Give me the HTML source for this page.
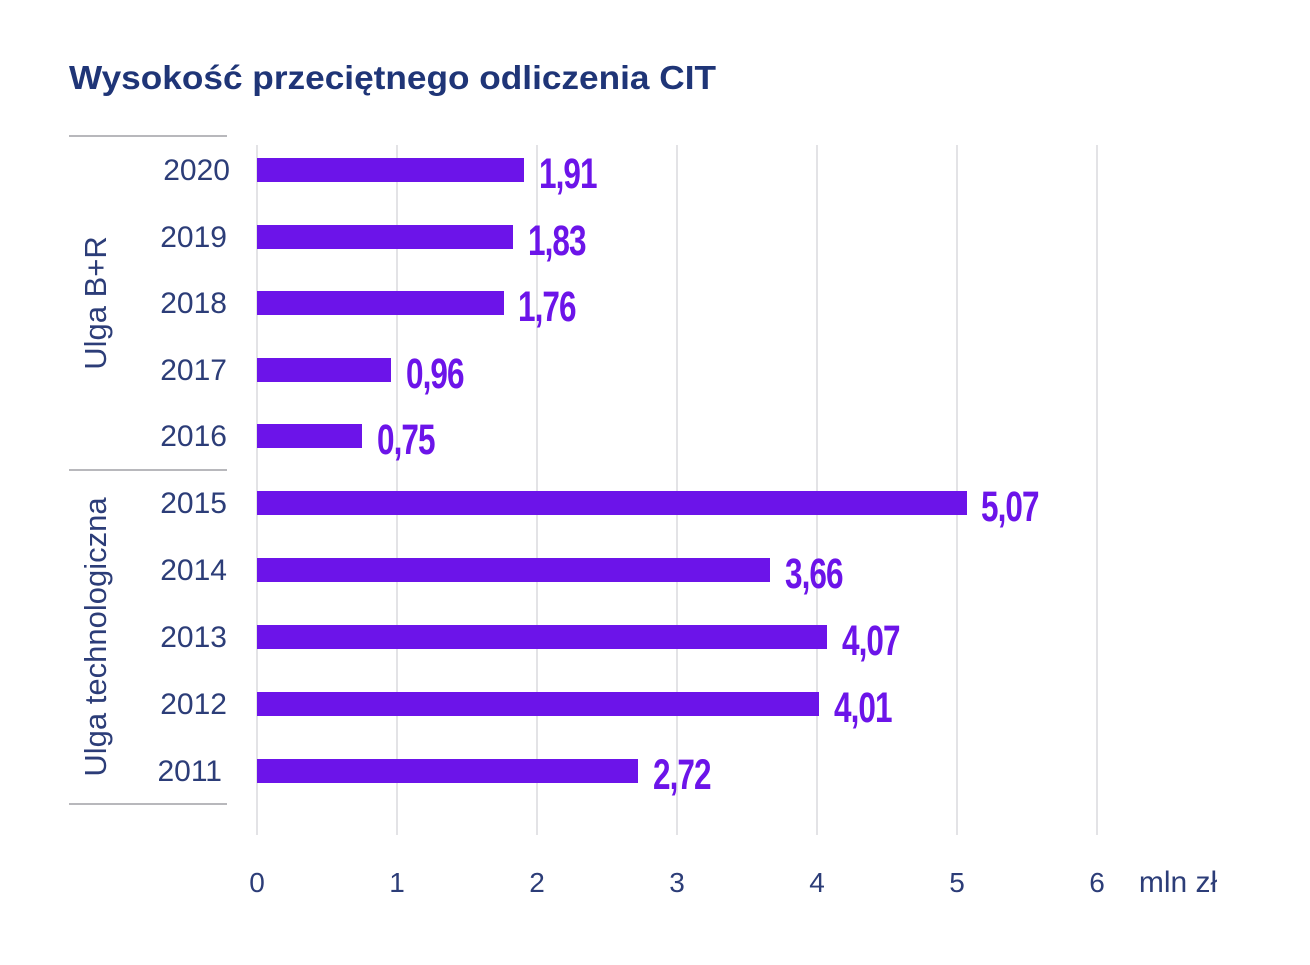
<!DOCTYPE html>
<html><head><meta charset="utf-8"><style>
body{margin:0;background:#fff;width:1310px;height:960px;overflow:hidden;}
svg text{font-family:"Liberation Sans",sans-serif;}
</style></head><body>
<svg width="1310" height="960" xmlns="http://www.w3.org/2000/svg">
<text x="69" y="89" font-size="33" font-weight="bold" fill="#1f3577" textLength="647" lengthAdjust="spacingAndGlyphs">Wysokość przeciętnego odliczenia CIT</text>
<g stroke="#e3e3e6" stroke-width="2">
<line x1="257" y1="145" x2="257" y2="835"/><line x1="397" y1="145" x2="397" y2="835"/>
<line x1="537" y1="145" x2="537" y2="835"/><line x1="677" y1="145" x2="677" y2="835"/>
<line x1="817" y1="145" x2="817" y2="835"/><line x1="957" y1="145" x2="957" y2="835"/>
<line x1="1097" y1="145" x2="1097" y2="835"/>
</g>
<g stroke="#b8b8bc" stroke-width="2">
<line x1="69" y1="136" x2="227" y2="136"/><line x1="69" y1="470" x2="227" y2="470"/><line x1="69" y1="804" x2="227" y2="804"/>
</g>
<g font-size="28" fill="#2c3d78" text-anchor="middle">
<text x="257" y="892">0</text><text x="397" y="892">1</text><text x="537" y="892">2</text><text x="677" y="892">3</text><text x="817" y="892">4</text><text x="957" y="892">5</text><text x="1097" y="892">6</text>
<text x="1178" y="892" font-size="30">mln zł</text>
</g>
<g font-size="31" fill="#2c3d78" text-anchor="middle">
<text transform="translate(106,303) rotate(-90)">Ulga B+R</text>
<text transform="translate(106,637) rotate(-90)">Ulga technologiczna</text>
</g>
<g font-size="30" fill="#2c3d78" text-anchor="end">
<text x="230" y="180">2020</text><text x="227" y="247">2019</text><text x="227" y="313">2018</text><text x="227" y="380">2017</text><text x="227" y="446">2016</text>
<text x="227" y="513">2015</text><text x="227" y="580">2014</text><text x="227" y="647">2013</text><text x="227" y="714">2012</text><text x="222" y="781">2011</text>
</g>
<g fill="#6c14e9">
<rect x="257" y="158" width="267" height="24"/><rect x="257" y="225" width="256" height="24"/>
<rect x="257" y="291" width="247" height="24"/><rect x="257" y="358" width="134" height="24"/>
<rect x="257" y="424" width="105" height="24"/><rect x="257" y="491" width="710" height="24"/>
<rect x="257" y="558" width="513" height="24"/><rect x="257" y="625" width="570" height="24"/>
<rect x="257" y="692" width="562" height="24"/><rect x="257" y="759" width="381" height="24"/>
</g>
<g font-size="50" font-weight="bold" fill="#6c14e9" letter-spacing="-1.5">
<text transform="translate(539,188) scale(0.63,0.86)">1,91</text>
<text transform="translate(528,255) scale(0.63,0.86)">1,83</text>
<text transform="translate(518,321) scale(0.63,0.86)">1,76</text>
<text transform="translate(406,388) scale(0.63,0.86)">0,96</text>
<text transform="translate(377,454) scale(0.63,0.86)">0,75</text>
<text transform="translate(981,521) scale(0.63,0.86)">5,07</text>
<text transform="translate(785,588) scale(0.63,0.86)">3,66</text>
<text transform="translate(842,655) scale(0.63,0.86)">4,07</text>
<text transform="translate(834,722) scale(0.63,0.86)">4,01</text>
<text transform="translate(653,789) scale(0.63,0.86)">2,72</text>
</g>
</svg>
</body></html>
